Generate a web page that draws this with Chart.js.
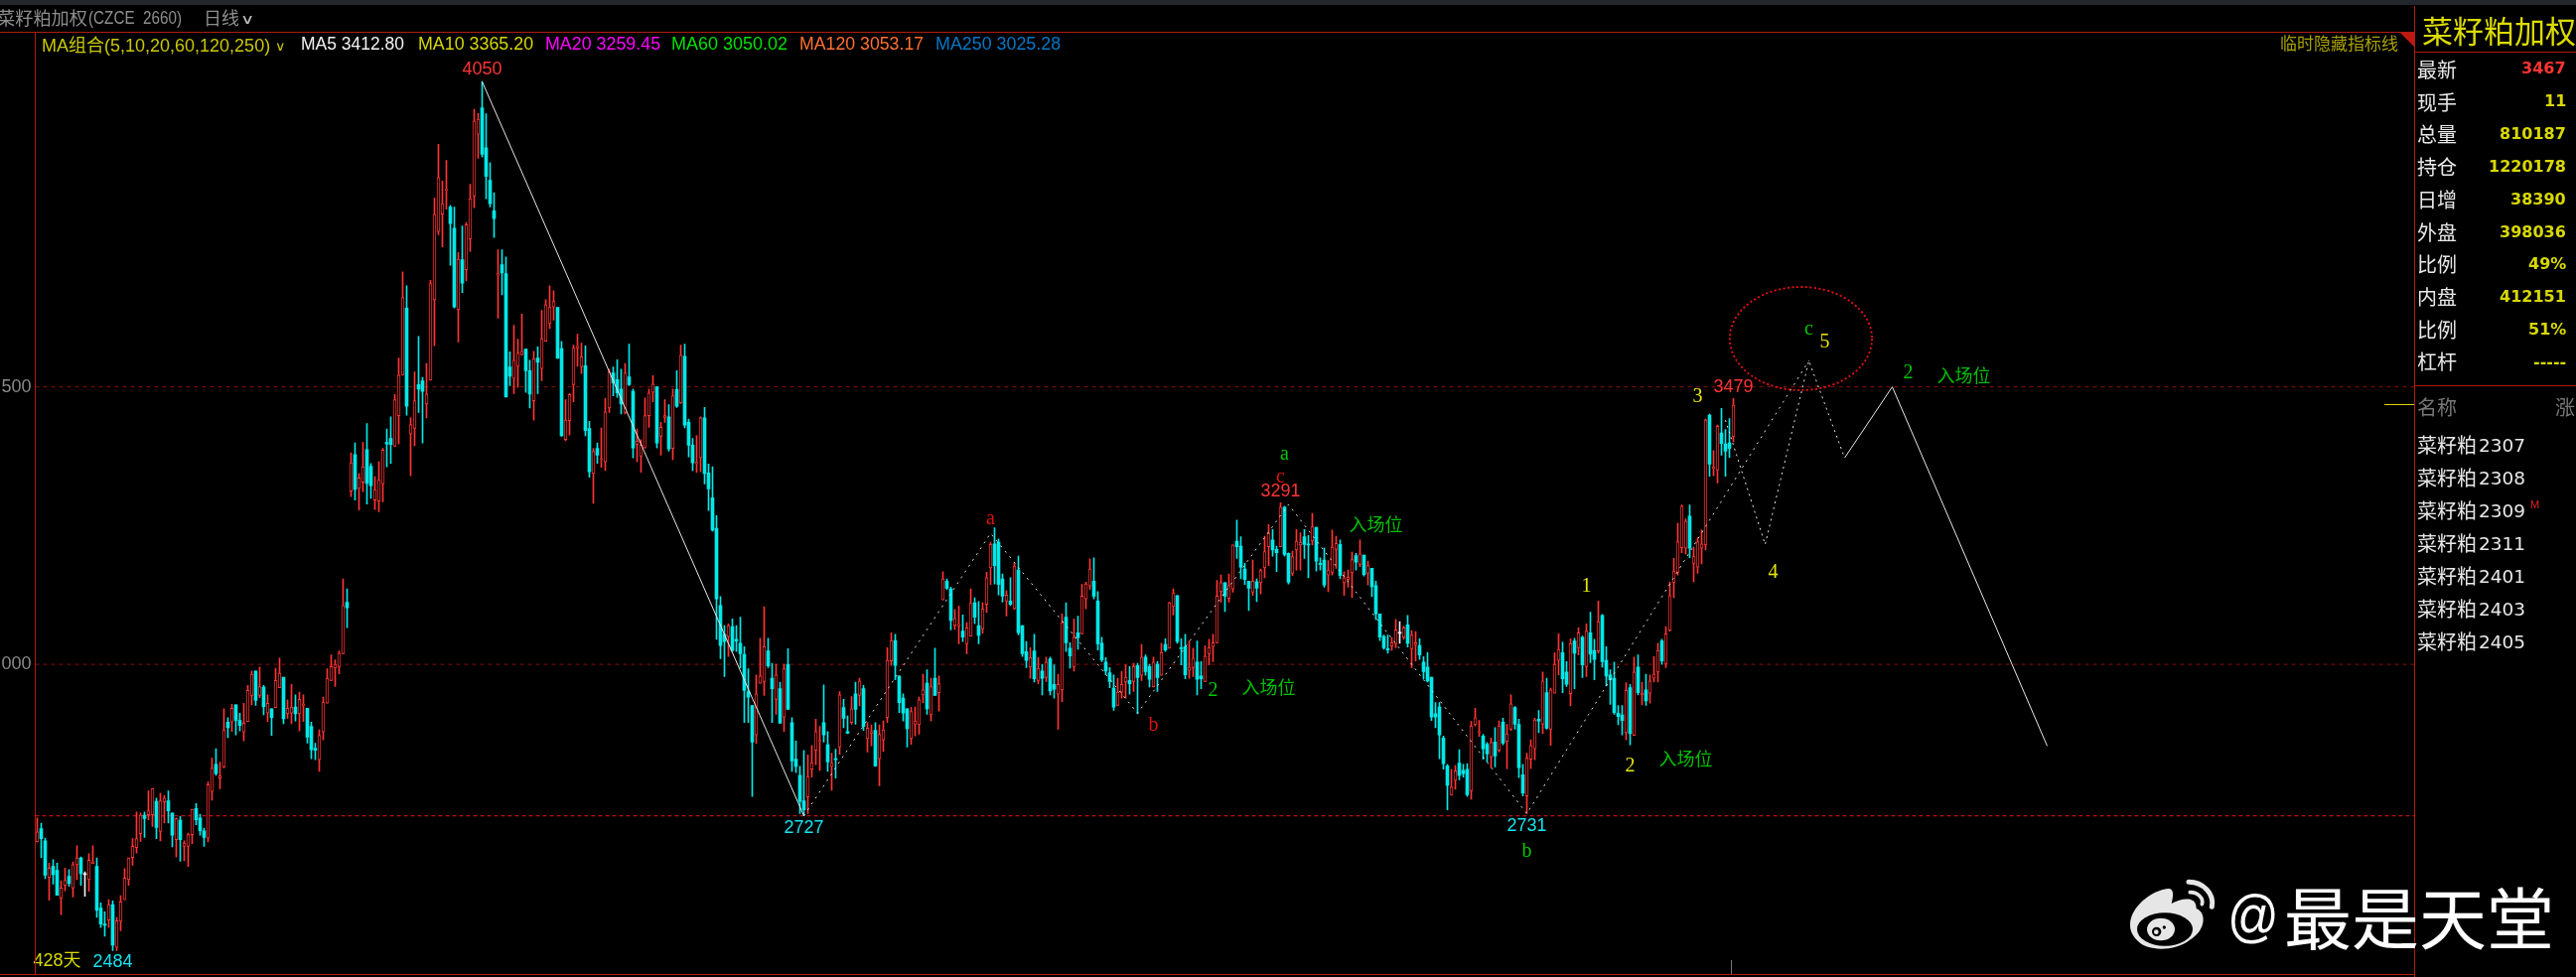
<!DOCTYPE html>
<html><head><meta charset="utf-8">
<script src="https://cdn.jsdelivr.net/npm/chart.js@4/dist/chart.umd.min.js"></script>
<style>
html,body{margin:0;padding:0;background:#000;width:2594px;height:984px;overflow:hidden}
#c{position:absolute;left:0;top:0}
.t{position:absolute;white-space:nowrap;line-height:1;transform-origin:left center}
.l{position:absolute;background:#b01c10}
</style></head><body>
<canvas id="c" width="2594" height="984"></canvas>
<div id="ui"></div>
<script>
const instrument = "菜籽粕加权";
const priceTicks = [3000, 3500];
const dashedLevels = [3000, 3500];
const supportLevel = 2727;
// daily candles: open, high, low, close
const ohlc = [
[2680,2723,2680,2698],[2704,2714,2652,2686],[2682,2687,2614,2620],[2616,2642,2575,2633],[2636,2648,2604,2621],[2629,2642,2584,2584],[2579,2610,2549,2597],[2602,2633,2592,2611],[2618,2630,2600,2605],[2597,2644,2581,2639],
[2639,2673,2612,2651],[2651,2653,2602,2623],[2621,2626,2582,2621],[2612,2659,2591,2647],[2641,2673,2641,2644],[2636,2651,2544,2557],[2561,2570,2526,2532],[2532,2554,2510,2530],[2539,2576,2526,2567],[2567,2574,2484,2494],
[2490,2544,2484,2538],[2537,2583,2520,2572],[2576,2632,2576,2615],[2612,2651,2602,2651],[2652,2686,2638,2672],[2670,2734,2660,2686],[2695,2732,2681,2728],[2728,2734,2688,2722],[2729,2772,2720,2736],[2729,2776,2708,2776],
[2753,2759,2686,2706],[2699,2768,2682,2754],[2752,2764,2714,2759],[2754,2772,2714,2736],[2732,2732,2671,2692],[2684,2723,2653,2722],[2719,2726,2645,2684],[2672,2682,2646,2678],[2672,2696,2636,2693],[2693,2739,2677,2739],
[2740,2749,2711,2720],[2723,2730,2692,2700],[2700,2705,2672,2688],[2687,2788,2680,2783],[2771,2831,2755,2813],[2820,2848,2800,2803],[2795,2824,2776,2799],[2815,2920,2814,2881],[2896,2904,2868,2886],[2896,2928,2879,2921],
[2927,2927,2873,2899],[2899,2912,2880,2890],[2878,2930,2862,2894],[2897,2962,2897,2953],[2944,2988,2927,2982],[2988,2988,2926,2935],[2944,2995,2940,2960],[2959,2962,2909,2924],[2912,2945,2897,2930],[2920,2920,2872,2904],
[2922,2993,2922,2971],[2958,3011,2958,2984],[2977,2977,2893,2902],[2911,2936,2903,2921],[2912,2964,2893,2923],[2923,2945,2898,2911],[2911,2950,2880,2937],[2926,2945,2897,2928],[2921,2921,2858,2869],[2888,2896,2830,2846],
[2849,2858,2828,2845],[2828,2882,2807,2872],[2878,2941,2864,2932],[2930,2992,2930,2975],[2971,3017,2971,2996],[2993,3008,2960,3000],[2996,3024,2983,3020],[3019,3154,3019,3106],[3112,3136,3066,3102],[3312,3381,3302,3363],
[3378,3399,3296,3315],[3317,3344,3278,3336],[3328,3400,3311,3356],[3387,3434,3289,3326],[3357,3362,3299,3322],[3296,3338,3279,3315],[3294,3365,3275,3332],[3325,3389,3293,3386],[3400,3424,3356,3397],[3407,3446,3362,3396],
[3393,3486,3393,3477],[3448,3552,3397,3521],[3521,3707,3521,3661],[3642,3682,3449,3465],[3415,3444,3340,3432],[3425,3527,3394,3475],[3504,3591,3454,3496],[3511,3517,3399,3492],[3469,3542,3444,3487],[3512,3692,3512,3686],
[3657,3840,3574,3811],[3780,3937,3774,3877],[3811,3871,3752,3830],[3854,3908,3820,3855],[3824,3827,3719,3794],[3786,3824,3642,3644],[3639,3742,3581,3730],[3729,3790,3670,3687],[3711,3796,3691,3792],[3766,3865,3744,3839],
[3844,4000,3823,3979],[3955,3993,3912,3982],[4003,4050,3914,3919],[3931,3992,3839,3879],[3872,3904,3824,3830],[3817,3850,3769,3803],[3701,3747,3624,3704],[3720,3747,3666,3705],[3704,3734,3481,3482],[3536,3563,3502,3519],
[3515,3611,3488,3548],[3537,3586,3499,3561],[3558,3631,3557,3564],[3568,3568,3490,3529],[3529,3548,3462,3487],[3475,3564,3440,3550],[3552,3572,3488,3544],[3533,3638,3511,3587],[3582,3657,3582,3648],[3614,3682,3605,3643],
[3644,3673,3620,3654],[3643,3643,3551,3552],[3569,3582,3411,3412],[3405,3477,3403,3440],[3439,3488,3413,3486],[3504,3575,3473,3570],[3570,3595,3537,3573],[3536,3579,3524,3554],[3538,3574,3412,3421],[3425,3438,3337,3347],
[3344,3389,3290,3384],[3389,3399,3362,3377],[3369,3426,3355,3371],[3365,3479,3349,3455],[3462,3532,3454,3527],[3525,3536,3484,3507],[3513,3549,3481,3489],[3496,3532,3451,3469],[3454,3542,3451,3525],[3518,3577,3502,3504],
[3492,3496,3372,3390],[3396,3424,3365,3402],[3375,3405,3346,3395],[3390,3480,3390,3448],[3448,3496,3427,3489],[3490,3520,3473,3505],[3500,3500,3390,3399],[3411,3436,3377,3427],[3445,3477,3436,3448],[3446,3468,3384,3388],
[3389,3496,3369,3484],[3495,3529,3463,3465],[3471,3575,3470,3557],[3555,3577,3426,3431],[3436,3442,3374,3395],[3395,3407,3349,3363],[3362,3412,3346,3364],[3372,3446,3347,3444],[3444,3463,3325,3344],[3345,3361,3277,3316],
[3300,3356,3240,3242],[3245,3268,3045,3118],[3106,3122,3010,3034],[3054,3070,2978,3041],[3050,3073,3014,3070],[3068,3082,3023,3025],[3045,3070,3023,3042],[3038,3085,2993,3019],[3018,3032,2895,2953],[2951,2992,2895,2941],
[2926,2926,2762,2860],[2873,2981,2857,2947],[2966,3047,2966,2979],[2969,3104,2944,3032],[3024,3047,2994,2997],[2975,3002,2895,2956],[2937,3000,2910,2981],[2956,2968,2894,2894],[2905,3000,2879,2992],[3000,3028,2919,2919],
[2895,2904,2807,2826],[2829,2862,2805,2816],[2800,2816,2731,2753],[2754,2845,2727,2738],[2761,2837,2731,2798],[2811,2854,2797,2823],[2845,2901,2819,2879],[2861,2888,2809,2862],[2895,2963,2860,2873],[2855,2879,2807,2824],
[2816,2840,2773,2822],[2830,2847,2795,2828],[2851,2951,2838,2945],[2922,2937,2886,2903],[2879,2907,2875,2876],[2895,2942,2892,2920],[2947,2968,2892,2919],[2944,2975,2925,2970],[2956,2962,2881,2888],[2866,2895,2842,2885],
[2876,2891,2853,2879],[2881,2895,2816,2817],[2830,2891,2781,2874],[2864,2898,2843,2882],[2904,3030,2895,3007],[3006,3057,2998,3043],[3043,3054,2972,2998],[2979,2979,2913,2931],[2939,2947,2898,2912],[2920,2920,2851,2884],
[2866,2922,2856,2915],[2892,2923,2871,2898],[2891,2941,2874,2936],[2945,2982,2931,2954],[2966,2990,2910,2920],[2909,2975,2898,2960],[2975,3029,2944,2944],[2949,2979,2916,2965],[3116,3167,3116,3154],[3150,3154,3135,3137],
[3136,3139,3062,3079],[3070,3099,3063,3083],[3069,3105,3037,3072],[3060,3089,3041,3049],[3037,3075,3019,3066],[3051,3136,3051,3110],[3111,3120,3073,3085],[3070,3113,3037,3052],[3064,3111,3056,3100],[3108,3166,3094,3156],
[3174,3220,3144,3216],[3217,3246,3145,3178],[3220,3226,3125,3144],[3154,3163,3112,3123],[3114,3133,3087,3125],[3114,3156,3106,3108],[3100,3182,3099,3177],[3170,3195,3053,3057],[3070,3070,3014,3019],[3023,3041,2994,3007],
[2995,3030,2975,3012],[3024,3054,2968,2974],[2971,3012,2965,2993],[2988,3000,2945,2975],[2976,3013,2969,3004],[3010,3013,2945,2952],[2964,2999,2939,2955],[2946,2982,2883,2964],[2954,3091,2933,3075],[3085,3111,3023,3039],
[3029,3039,2993,3015],[2996,3082,2988,3049],[3057,3087,3027,3048],[3055,3144,3055,3123],[3118,3148,3100,3145],[3141,3190,3135,3172],[3150,3192,3118,3123],[3114,3131,3026,3037],[3038,3049,3005,3008],[3004,3012,2981,2988],
[2985,2994,2958,2969],[2957,2981,2917,2923],[2926,2975,2926,2950],[2950,2987,2939,2964],[2968,2999,2939,2977],[2971,2996,2946,2965],[2969,3002,2951,2996],[2998,3002,2911,2976],[2980,3036,2971,3013],[3013,3017,2980,2987],
[2996,3000,2959,2973],[2959,3013,2959,3004],[3000,3005,2951,2976],[2980,3038,2980,3021],[3036,3046,3023,3026],[3029,3112,3029,3111],[3104,3136,3089,3129],[3124,3124,3038,3041],[3030,3046,2999,3028],[3032,3054,2974,2981],
[2989,3042,2975,2995],[2994,3029,2978,3011],[3004,3042,2945,2973],[2979,3005,2956,2974],[2969,3033,2969,3015],[3019,3045,2999,3030],[3032,3054,3005,3039],[3039,3151,3039,3123],[3131,3161,3112,3147],[3147,3147,3095,3123],
[3119,3163,3112,3142],[3136,3215,3130,3215],[3222,3260,3191,3212],[3213,3230,3154,3175],[3172,3182,3144,3153],[3150,3150,3097,3137],[3130,3188,3124,3150],[3149,3154,3113,3137],[3147,3172,3127,3169],[3174,3231,3156,3203],
[3212,3252,3178,3236],[3224,3243,3195,3206],[3207,3213,3167,3201],[3212,3291,3212,3283],[3283,3285,3195,3198],[3200,3201,3145,3148],[3164,3204,3160,3194],[3206,3243,3170,3222],[3215,3237,3170,3220],[3230,3243,3191,3216],
[3216,3232,3156,3215],[3222,3272,3215,3248],[3247,3247,3168,3186],[3182,3192,3170,3180],[3188,3210,3139,3143],[3161,3187,3131,3170],[3166,3242,3161,3211],[3207,3231,3173,3218],[3216,3224,3154,3160],[3147,3167,3124,3156],
[3153,3170,3139,3157],[3165,3202,3120,3189],[3196,3200,3170,3184],[3180,3224,3176,3199],[3197,3197,3159,3162],[3164,3186,3143,3178],[3173,3173,3122,3140],[3142,3150,3081,3091],[3091,3091,3043,3049],[3050,3053,3027,3030],
[3028,3053,3020,3026],[3033,3048,3025,3039],[3037,3081,3030,3062],[3056,3077,3038,3056],[3049,3069,3045,3066],[3071,3088,3031,3038],[3028,3061,2994,3053],[3035,3059,3006,3039],[3034,3046,3009,3017],[3004,3014,2974,2987],
[2995,3021,2968,2970],[2977,2977,2899,2905],[2911,2931,2886,2905],[2923,2931,2830,2873],[2867,2871,2811,2821],[2817,2820,2738,2782],[2764,2811,2764,2779],[2791,2818,2775,2808],[2822,2846,2792,2800],[2809,2820,2797,2803],
[2811,2821,2762,2765],[2772,2897,2757,2889],[2891,2921,2889,2904],[2877,2899,2870,2879],[2871,2874,2829,2848],[2856,2859,2824,2839],[2833,2867,2814,2859],[2860,2886,2815,2835],[2845,2898,2842,2889],[2896,2903,2855,2858],
[2861,2892,2812,2875],[2883,2945,2881,2929],[2922,2924,2883,2892],[2892,2901,2796,2814],[2801,2820,2763,2768],[2763,2840,2731,2831],[2829,2864,2812,2854],[2848,2903,2828,2900],[2901,2917,2877,2898],[2892,2986,2875,2970],
[2949,2975,2883,2885],[2883,2957,2854,2954],[2948,3021,2948,3000],[3007,3055,2981,3027],[3021,3040,2949,2974],[2986,3005,2960,2964],[2947,3046,2925,3037],[3042,3047,2956,3020],[3030,3066,3017,3057],[3049,3051,2976,2999],
[2996,3073,2978,3060],[3057,3094,3003,3018],[3025,3045,2972,3009],[3024,3114,3020,3077],[3088,3090,2995,3005],[3007,3032,2961,2979],[2981,2990,2928,2972],[2975,3004,2910,2913],[2912,2926,2891,2906],[2909,2926,2873,2899],
[2877,2967,2864,2953],[2958,2964,2855,2875],[2872,3013,2872,2986],[2995,3017,2945,2949],[2945,2968,2927,2948],[2954,2982,2926,2934],[2948,2981,2930,2970],[2975,3014,2968,2982],[2986,3038,2968,3025],[3042,3045,3000,3006],
[3001,3068,2994,3055],[3061,3148,3060,3124],[3147,3191,3120,3168],[3166,3254,3161,3221],[3210,3287,3201,3285],[3209,3262,3199,3258],[3267,3287,3192,3209],[3182,3211,3149,3194],[3175,3228,3164,3221],[3209,3242,3181,3217],
[3215,3442,3206,3440],[3449,3451,3339,3361],[3353,3385,3340,3356],[3350,3431,3327,3429],[3417,3461,3377,3398],[3397,3423,3339,3384],[3399,3443,3373,3389],[3410,3479,3401,3467]
];
// slot count of the time axis (future space to the right of the last bar)
const slotCount = 599;
// swing paths [bar index, price]
const downMove = [[112,4050],[193,2727]];
const waveDots = [[193,2727],[240,3236],[277,2912],[315,3288],[375,2731],[446,3547]];
const forecastDots = [[425,3440],[435,3216],[446,3547],[455,3372]];
const forecastLine = [[455,3372],[467,3500],[506,2853]];
// text, bar index, price, kind
const waveLabels = [
["4050",112,4071,"hi"],["2727",193,2705,"lo"],["2484",19,2463,"lo"],["428天",5,2466,"days"],
["3291",313,3311,"hi"],["3479",427,3500,"hi"],["2731",375,2709,"lo"],
["a",240,3261,"rm"],["b",281,2890,"rm"],["c",313,3337,"rm"],
["a",314,3379,"gm"],["b",375,2662,"gm"],["c",446,3604,"gm"],
["1",390,3141,"ym"],["2",401,2816,"ym"],["3",418,3481,"ym"],["4",437,3165,"ym"],["5",450,3580,"ym"],
["2",296,2952,"gm"],["2",471,3524,"gm"],
["入场位",337,3252,"gc"],["入场位",310,2959,"gc"],["入场位",415,2830,"gc"],["入场位",485,3520,"gc"]
];
// target zone: centre bar, centre price, half width in bars, half height in price
const targetZone = [444,3587,17.9,93];

const maLegend = [["MA5 3412.80","#f2f2f2",303,104],["MA10 3365.20","#d6d600",421,116],["MA20 3259.45","#ff00ff",549,116],["MA60 3050.02","#00e000",676,117],["MA120 3053.17","#ff7030",805,125],["MA250 3025.28","#0078c8",942,126]];
const quoteLabels = ["最新","现手","总量","持仓","日增","外盘","比例","内盘","比例","杠杆"];
const quoteValues = ["3467","11","810187","1220178","38390","398036","49%","412151","51%","-----"];
const contracts = ["2307","2308","2309","2311","2401","2403","2405"];

const RED="#ff3434", CYAN="#00e8e8", WHITE="#f0f0f0";
const colorOf = d => d[3]>d[0] ? RED : d[3]<d[0] ? CYAN : WHITE;
const pts = a => a.map(p=>({x:p[0],y:p[1]}));
const lineDs = (data,color,dash,width,ord)=>({type:'line',data,borderColor:color,borderWidth:width,borderDash:dash,pointRadius:0,tension:0,fill:false,order:ord});
const hline = (v,color,dash)=>lineDs([{x:-0.5,y:v},{x:slotCount-0.5,y:v}],color,dash,1,5);

const styles = {
 hi:{f:'18px "Liberation Sans"',c:'#ff3434'},
 lo:{f:'18px "Liberation Sans"',c:'#14e4f0'},
 days:{f:'18px "Liberation Sans","Noto Sans CJK SC"',c:'#d8d800'},
 rm:{f:'20px "Liberation Serif"',c:'#e01010'},
 gm:{f:'20px "Liberation Serif"',c:'#00c800'},
 ym:{f:'20px "Liberation Serif"',c:'#e6e600'},
 gc:{f:'18px "Noto Sans CJK SC"',c:'#00c000'}
};

const overlay = {
 id:'overlay',
 afterDatasetsDraw(chart){
  const {ctx,scales:{x,y}}=chart;
  ctx.save();
  const cx=x.getPixelForValue(targetZone[0]), cy=y.getPixelForValue(targetZone[1]);
  const rx=Math.abs(x.getPixelForValue(targetZone[0]+targetZone[2])-cx), ry=Math.abs(y.getPixelForValue(targetZone[1]+targetZone[3])-cy);
  ctx.beginPath();ctx.ellipse(cx,cy,rx,ry,0,0,Math.PI*2);
  ctx.strokeStyle='#f01010';ctx.lineWidth=1.8;ctx.setLineDash([2,2.5]);ctx.stroke();ctx.setLineDash([]);
  ctx.textAlign='center';ctx.textBaseline='middle';
  waveLabels.forEach(([t,i,p,k])=>{
    ctx.font=styles[k].f;ctx.fillStyle=styles[k].c;
    ctx.fillText(t,x.getPixelForValue(i),y.getPixelForValue(p));
  });
  ctx.restore();
 }
};

new Chart(document.getElementById('c'),{
 type:'bar',
 plugins:[overlay],
 data:{datasets:[
  hline(dashedLevels[0],'#8c0c0c',[4,4]),
  hline(dashedLevels[1],'#8c0c0c',[4,4]),
  hline(supportLevel,'#e81414',[4,3]),
  {type:'bar',order:4,grouped:false,barThickness:1,data:ohlc.map((d,i)=>({x:i,y:[d[2],d[1]]})),backgroundColor:ohlc.map(colorOf),borderWidth:0},
  {type:'bar',order:3,grouped:false,barThickness:3,minBarLength:1,data:ohlc.map((d,i)=>({x:i,y:[Math.min(d[0],d[3]),Math.max(d[0],d[3])]})),
   backgroundColor:ohlc.map(d=>colorOf(d)===RED?'#000':colorOf(d)),borderColor:ohlc.map(colorOf),borderWidth:ohlc.map(d=>colorOf(d)===RED?1:0),borderSkipped:false},
  lineDs(pts(downMove),'#e8e8e8',[],1,1),
  lineDs(pts(waveDots),'#e4e4e4',[2,5],1,1),
  lineDs(pts(forecastDots),'#e4e4e4',[2,4],1,1),
  lineDs(pts(forecastLine),'#e8e8e8',[],1,1)
 ]},
 options:{
  responsive:false,animation:false,devicePixelRatio:1,
  layout:{autoPadding:false,padding:{left:0,right:162.5,top:33,bottom:3}},
  plugins:{legend:{display:false},tooltip:{enabled:false}},
  scales:{
   x:{type:'linear',offset:false,min:-0.5,max:slotCount-0.5,display:false,grid:{display:false}},
   y:{type:'linear',min:2442,max:4138,border:{display:false},grid:{display:false,drawTicks:false},
      afterFit:s=>{s.width=35.5;s.paddingTop=0;s.paddingBottom=0},
      afterBuildTicks:s=>{s.ticks=priceTicks.map(v=>({value:v}))},
      ticks:{color:'#8a8a8a',padding:4,autoSkip:false,font:{family:'"Liberation Sans Narrow","Liberation Sans"',size:18}}}
  }
 }
});

// screen furniture
const ui=document.getElementById('ui');
function txt(s,left,cy,opt={}){
 const e=document.createElement('div');e.className='t';e.innerHTML=s;
 e.style.cssText+=`left:${left}px;font:${opt.w||400} ${opt.size||18}px ${opt.fam||'"Liberation Sans","Noto Sans CJK SC"'};color:${opt.c||'#ddd'};`;
 ui.appendChild(e);
 const h=e.offsetHeight;e.style.top=(cy-h/2)+'px';
 if(opt.right!==undefined){e.style.left=(opt.right-e.offsetWidth)+'px';}
 if(opt.fit){e.style.transform=`scaleX(${opt.fit/e.offsetWidth})`;}
 return e;
}
function rule(l,t,w,h,c){const e=document.createElement('div');e.className='l';e.style.cssText+=`left:${l}px;top:${t}px;width:${w}px;height:${h}px;`+(c?`background:${c};`:'');ui.appendChild(e);}
rule(0,0,2594,5,'#23262c');
rule(0,32,2431,1);rule(35,33,1,948);rule(0,981,2431,1);rule(2431,6,1,978);
rule(2431,52,163,1);rule(2431,388,163,1);
rule(2401,407,30,1,'#d8d800');rule(1743,967,1,14,'#777');

txt('菜籽粕加权',-3,17,{size:18,c:'#8e8e8e',fam:'"Noto Sans CJK SC"',fit:91});
txt('(CZCE&nbsp; 2660)',89,18,{size:18,c:'#8e8e8e',fit:94});
txt('日线',205,17,{size:18,c:'#8e8e8e',fam:'"Noto Sans CJK SC"',fit:36});
txt('∨',242,19,{size:14,c:'#bbb',fam:'"DejaVu Sans"',fit:14});
txt('MA组合(5,10,20,60,120,250)',42,44,{size:18,c:'#c8c800',fit:230});
txt('∨',277,46,{size:13,c:'#c8c800',fam:'"DejaVu Sans"',fit:11});
maLegend.forEach(m=>txt(m[0],m[2],44,{size:18,c:m[1],fit:m[3]}));
txt('临时隐藏指标线',0,42,{size:17,c:'#a8a000',fam:'"Noto Sans CJK SC"',right:2415});
const tri=document.createElementNS('http://www.w3.org/2000/svg','svg');
tri.setAttribute('style','position:absolute;left:2417px;top:33px');tri.setAttribute('width','15');tri.setAttribute('height','15');
tri.innerHTML='<polygon points="0,0 14,0 14,14" fill="#c01810"/>';ui.appendChild(tri);

txt(instrument,2439,29,{size:31,c:'#dcdc00',fam:'"Noto Sans CJK SC"',fit:155});
quoteLabels.forEach((s,i)=>{
 txt(s,2434,69.5+32.7*i,{size:20,c:'#e8e8e8',fam:'"Noto Sans CJK SC"'});
 txt(quoteValues[i],0,68.5+32.9*i,{size:16,w:700,c:i===0?'#ff3434':'#d8d800',fam:'"DejaVu Sans"',right:2584});
});
txt('名称',2434,409,{size:20,c:'#777',fam:'"Noto Sans CJK SC"'});
txt('涨',2573,409,{size:20,c:'#777',fam:'"Noto Sans CJK SC"'});
contracts.forEach((s,i)=>{
 const cy=447.5+33*i;
 txt('菜籽粕',2434,cy,{size:20,c:'#e8e8e8',fam:'"Noto Sans CJK SC"'});
 txt(s,2496,cy+1,{size:18.5,c:'#e8e8e8',fam:'"DejaVu Sans"'});
});
txt('M',2548,508,{size:11,c:'#e02020'});

// watermark
const wm=document.createElementNS('http://www.w3.org/2000/svg','svg');
wm.setAttribute('style','position:absolute;left:2130px;top:860px');wm.setAttribute('width','464');wm.setAttribute('height','124');wm.setAttribute('viewBox','0 0 1392 372');
wm.innerHTML=`<path d="M45 215C45 160 110 110 160 105C180 105 175 130 170 150C200 135 245 125 245 165C280 180 270 235 225 260C180 295 100 295 70 265C55 250 45 235 45 215Z" fill="#e6e6e6"/>
<ellipse cx="150" cy="228" rx="84" ry="50" fill="#000"/><ellipse cx="138" cy="228" rx="42" ry="34" fill="#e6e6e6"/>
<circle cx="125" cy="235" r="14" fill="#000"/><circle cx="124" cy="236" r="7" fill="#e6e6e6"/><circle cx="148" cy="222" r="5" fill="#000"/>
<path d="M222 85C265 85 300 120 292 160" fill="none" stroke="#e6e6e6" stroke-width="15" stroke-linecap="round"/>
<path d="M226 116C250 116 268 135 262 152" fill="none" stroke="#e6e6e6" stroke-width="11" stroke-linecap="round"/>`;
ui.appendChild(wm);
txt('@',2243,921,{size:58,c:'#fff',fam:'"Liberation Sans"',fit:52});
txt('最是天堂',2300,921,{size:68,c:'#fff',fam:'"Noto Sans CJK SC"'});
</script>
</body></html>
